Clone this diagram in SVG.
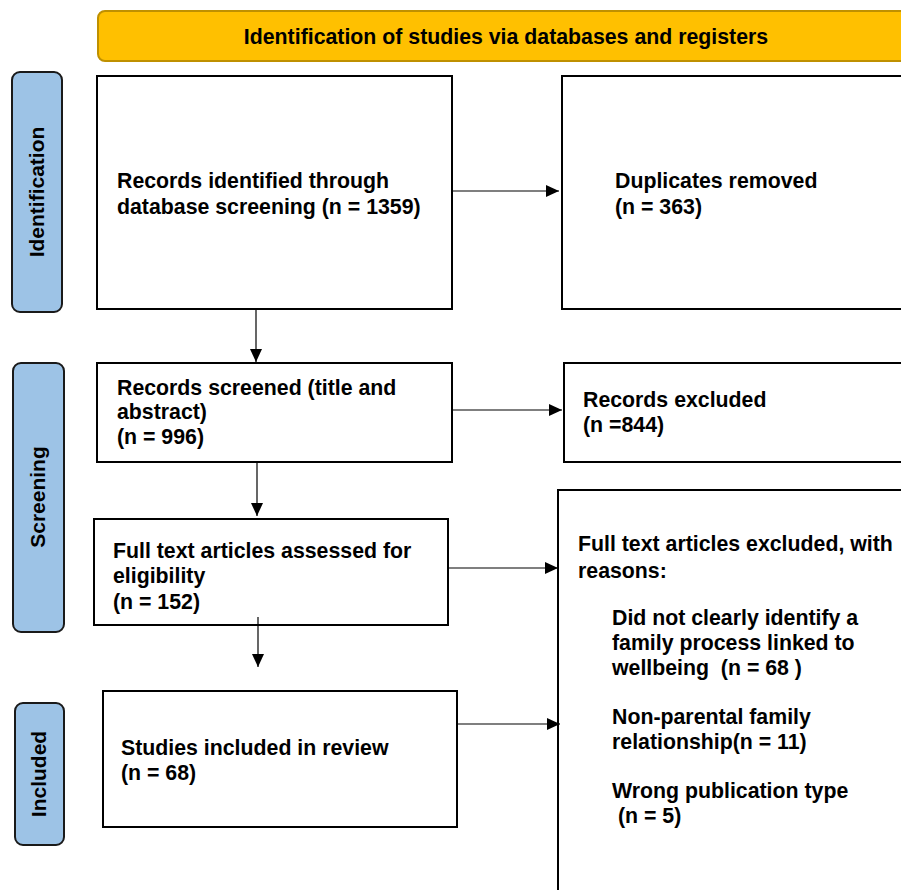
<svg xmlns="http://www.w3.org/2000/svg" width="901" height="890" viewBox="0 0 901 890">
<defs>
<marker id="ah" markerWidth="14" markerHeight="14" refX="13" refY="7" orient="auto" markerUnits="userSpaceOnUse">
<path d="M0,1 L13,7 L0,13 Z" fill="#000"/>
</marker>
<style>
.box{fill:#fff;stroke:#000;stroke-width:2}
.side{fill:#9DC3E6;stroke:#1a1a1a;stroke-width:2}
.t{font-family:"Liberation Sans",Arial,sans-serif;font-weight:bold;font-size:21.3px;fill:#000;white-space:pre}
.s{font-size:21px}
.c{stroke:#000;stroke-width:1.2;fill:none;marker-end:url(#ah)}
</style>
</defs>
<rect width="901" height="890" fill="#fff"/>
<g id="banner">
<rect x="98" y="11" width="812" height="50" rx="7" fill="#FFC000" stroke="#BF9000" stroke-width="2"/>
<text class="t" x="506" y="44" text-anchor="middle">Identification of studies via databases and registers</text>
</g>
<g id="side-identification">
<rect class="side" x="12" y="72" width="50" height="240" rx="8"/>
<text class="t s" transform="translate(44,192) rotate(-90)" text-anchor="middle">Identification</text>
</g>
<g id="side-screening">
<rect class="side" x="13" y="363" width="51" height="269" rx="8"/>
<text class="t s" transform="translate(45,497) rotate(-90)" text-anchor="middle">Screening</text>
</g>
<g id="side-included">
<rect class="side" x="15" y="703" width="49" height="142" rx="8"/>
<text class="t s" transform="translate(46,774) rotate(-90)" text-anchor="middle">Included</text>
</g>
<g id="records-identified">
<rect class="box" x="97" y="76" width="355" height="233"/>
<text class="t" x="117" y="188">Records identified through</text>
<text class="t" x="117" y="214">database screening (n = 1359)</text>
</g>
<g id="duplicates">
<rect class="box" x="562" y="76" width="350" height="233"/>
<text class="t" x="615" y="188">Duplicates removed</text>
<text class="t" x="615" y="214">(n = 363)</text>
</g>
<g id="records-screened">
<rect class="box" x="97" y="363" width="355" height="99"/>
<text class="t" x="117" y="395">Records screened (title and</text>
<text class="t" x="117" y="419">abstract)</text>
<text class="t" x="117" y="444">(n = 996)</text>
</g>
<g id="records-excluded">
<rect class="box" x="564" y="363" width="350" height="99"/>
<text class="t" x="583" y="407">Records excluded</text>
<text class="t" x="583" y="432">(n =844)</text>
</g>
<g id="full-text-assessed">
<rect class="box" x="94" y="519" width="354" height="106"/>
<text class="t" x="113" y="558">Full text articles assessed for</text>
<text class="t" x="113" y="583">eligibility</text>
<text class="t" x="113" y="609">(n = 152)</text>
</g>
<g id="full-text-excluded">
<rect class="box" x="558" y="490" width="360" height="420"/>
<text class="t" x="578" y="551">Full text articles excluded, with</text>
<text class="t" x="578" y="578">reasons:</text>
<text class="t" x="612" y="625">Did not clearly identify a</text>
<text class="t" x="612" y="650">family process linked to</text>
<text class="t" x="612" y="675" xml:space="preserve">wellbeing  (n = 68 )</text>
<text class="t" x="612" y="724">Non-parental family</text>
<text class="t" x="612" y="749">relationship(n = 11)</text>
<text class="t" x="612" y="798">Wrong publication type</text>
<text class="t" x="612" y="823" xml:space="preserve"> (n = 5)</text>
</g>
<g id="studies-included">
<rect class="box" x="103" y="691" width="354" height="136"/>
<text class="t" x="121" y="755">Studies included in review</text>
<text class="t" x="121" y="780">(n = 68)</text>
</g>
<g id="connectors">
<line class="c" x1="452" y1="191" x2="559" y2="191"/>
<line class="c" x1="256" y1="309" x2="256" y2="362"/>
<line class="c" x1="452" y1="410" x2="562" y2="410"/>
<line class="c" x1="257" y1="462" x2="257" y2="516"/>
<line class="c" x1="448" y1="568" x2="558" y2="568"/>
<line class="c" x1="258" y1="617" x2="258" y2="667"/>
<line class="c" x1="457" y1="724" x2="560" y2="724"/>
</g>
</svg>
